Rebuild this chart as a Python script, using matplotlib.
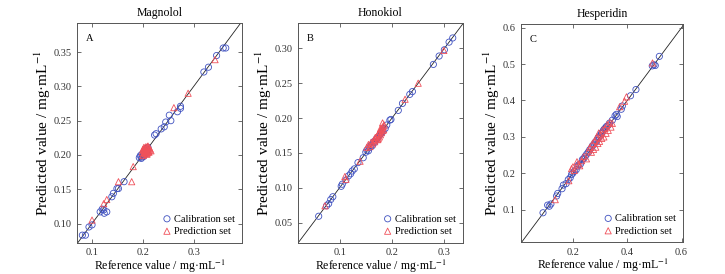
import matplotlib
matplotlib.use("Agg")
import matplotlib.pyplot as plt
from matplotlib.ticker import FormatStrFormatter

plt.rcParams["font.family"] = ["Liberation Serif", "DejaVu Serif"]
plt.rcParams["mathtext.fontset"] = "stix"

# ---------- data ----------
titles = ["Magnolol", "Honokiol", "Hesperidin"]
letters = ["A", "B", "C"]

a_cal_ref = [0.081, 0.087, 0.094, 0.100, 0.116, 0.120, 0.123, 0.124, 0.129, 0.139, 0.142, 0.149, 0.152, 0.163,
             0.193, 0.195, 0.197, 0.198, 0.199, 0.200, 0.201, 0.202, 0.203, 0.204, 0.205, 0.206, 0.207, 0.208, 0.210,
             0.223, 0.226, 0.236, 0.242, 0.245, 0.252, 0.255, 0.268, 0.274, 0.274, 0.320, 0.329, 0.345, 0.358, 0.363]
a_cal_pred = [0.083, 0.083, 0.095, 0.098, 0.117, 0.121, 0.120, 0.115, 0.117, 0.139, 0.144, 0.151, 0.151, 0.161,
              0.196, 0.199, 0.195, 0.201, 0.197, 0.200, 0.203, 0.198, 0.205, 0.201, 0.207, 0.203, 0.209, 0.206, 0.211,
              0.229, 0.231, 0.238, 0.241, 0.248, 0.258, 0.250, 0.263, 0.271, 0.268, 0.321, 0.328, 0.345, 0.356, 0.356]
a_pre_ref = [0.100, 0.123, 0.129, 0.152, 0.178, 0.181,
             0.199, 0.200, 0.201, 0.202, 0.203, 0.204, 0.205, 0.206, 0.207, 0.208, 0.209, 0.210, 0.211, 0.212, 0.213,
             0.200, 0.202, 0.204, 0.206, 0.208, 0.210, 0.212, 0.203, 0.205, 0.207, 0.209, 0.201, 0.211, 0.214, 0.216,
             0.261, 0.289, 0.342]
a_pre_pred = [0.105, 0.129, 0.135, 0.161, 0.161, 0.183,
              0.204, 0.208, 0.200, 0.211, 0.205, 0.209, 0.202, 0.212, 0.206, 0.210, 0.203, 0.208, 0.205, 0.211, 0.207,
              0.199, 0.206, 0.203, 0.209, 0.201, 0.213, 0.204, 0.210, 0.207, 0.203, 0.212, 0.208, 0.206, 0.209, 0.206,
              0.269, 0.290, 0.339]

b_cal_ref = [0.060, 0.075, 0.079, 0.083, 0.087, 0.103, 0.105, 0.112, 0.117, 0.121, 0.124, 0.128, 0.135, 0.145,
             0.150, 0.152, 0.155, 0.158, 0.160, 0.162, 0.165, 0.167, 0.170, 0.172, 0.175, 0.178, 0.180, 0.183,
             0.187, 0.190, 0.196, 0.198, 0.212, 0.220, 0.234, 0.239, 0.279, 0.290, 0.300, 0.309, 0.316]
b_cal_pred = [0.059, 0.074, 0.077, 0.083, 0.087, 0.102, 0.105, 0.111, 0.117, 0.120, 0.124, 0.127, 0.136, 0.143,
              0.151, 0.154, 0.153, 0.158, 0.161, 0.160, 0.166, 0.165, 0.170, 0.171, 0.174, 0.177, 0.179, 0.181,
              0.185, 0.190, 0.197, 0.198, 0.211, 0.221, 0.234, 0.238, 0.277, 0.289, 0.298, 0.309, 0.315]
b_pre_ref = [0.072, 0.110, 0.112, 0.139, 0.152, 0.155, 0.158, 0.160, 0.163, 0.165, 0.167, 0.169, 0.170, 0.172,
             0.174, 0.175, 0.176, 0.177, 0.178, 0.179, 0.180, 0.181, 0.182, 0.183, 0.184, 0.185, 0.168, 0.173,
             0.178, 0.182, 0.225, 0.250, 0.299]
b_pre_pred = [0.074, 0.116, 0.112, 0.138, 0.158, 0.162, 0.159, 0.165, 0.163, 0.168, 0.166, 0.172, 0.169, 0.175,
              0.171, 0.178, 0.173, 0.181, 0.176, 0.184, 0.179, 0.186, 0.182, 0.188, 0.183, 0.190, 0.172, 0.169,
              0.185, 0.193, 0.227, 0.250, 0.297]

c_cal_ref = [0.090, 0.107, 0.113, 0.119, 0.140, 0.144, 0.160, 0.165, 0.175, 0.183, 0.190, 0.195, 0.200, 0.205,
             0.212, 0.218, 0.222, 0.228, 0.235, 0.240, 0.245, 0.250, 0.256, 0.262, 0.268, 0.272, 0.278, 0.282,
             0.288, 0.292, 0.296, 0.300, 0.305, 0.308, 0.312, 0.316, 0.320, 0.324, 0.330, 0.335, 0.345, 0.355,
             0.360, 0.363, 0.378, 0.382, 0.412, 0.432, 0.492, 0.498, 0.503, 0.518]
c_cal_pred = [0.092, 0.113, 0.110, 0.116, 0.138, 0.145, 0.158, 0.168, 0.172, 0.183, 0.188, 0.197, 0.201, 0.206,
              0.210, 0.220, 0.224, 0.226, 0.238, 0.241, 0.247, 0.252, 0.258, 0.265, 0.270, 0.276, 0.280, 0.286,
              0.290, 0.297, 0.300, 0.303, 0.310, 0.312, 0.318, 0.322, 0.325, 0.329, 0.332, 0.338, 0.346, 0.358,
              0.362, 0.356, 0.376, 0.385, 0.413, 0.430, 0.495, 0.498, 0.496, 0.521]
c_pre_ref = [0.135, 0.185, 0.195, 0.200, 0.205, 0.215, 0.220, 0.225, 0.232, 0.240, 0.250, 0.258, 0.262, 0.268,
             0.272, 0.276, 0.280, 0.284, 0.288, 0.292, 0.295, 0.298, 0.302, 0.306, 0.310, 0.314, 0.318, 0.322,
             0.326, 0.330, 0.336, 0.340, 0.345, 0.372, 0.390, 0.397, 0.493]
c_pre_pred = [0.128, 0.180, 0.213, 0.218, 0.208, 0.232, 0.226, 0.221, 0.235, 0.246, 0.240, 0.262, 0.271, 0.258,
              0.282, 0.266, 0.290, 0.272, 0.300, 0.282, 0.311, 0.288, 0.306, 0.296, 0.320, 0.300, 0.323, 0.310,
              0.334, 0.318, 0.340, 0.327, 0.337, 0.383, 0.398, 0.410, 0.503]

x_limits = [(0.071, 0.395), (0.021, 0.335), (0.010, 0.606)]
y_limits = [(0.072, 0.392), (0.021, 0.336), (0.011, 0.609)]
x_ticks = [[0.1, 0.2, 0.3], [0.1, 0.2, 0.3], [0.2, 0.4, 0.6]]
y_ticks = [[0.10, 0.15, 0.20, 0.25, 0.30, 0.35],
           [0.05, 0.10, 0.15, 0.20, 0.25, 0.30],
           [0.1, 0.2, 0.3, 0.4, 0.5, 0.6]]
y_formats = ["%.2f", "%.2f", "%.1f"]

panels = [
    (a_cal_ref, a_cal_pred, a_pre_ref, a_pre_pred),
    (b_cal_ref, b_cal_pred, b_pre_ref, b_pre_pred),
    (c_cal_ref, c_cal_pred, c_pre_ref, c_pre_pred),
]

# ---------- layout ----------
axes_pos = [
    [0.1066, 0.1142, 0.2272, 0.8007],
    [0.4114, 0.1142, 0.2268, 0.8007],
    [0.7190, 0.1157, 0.2234, 0.7956],
]

blue = "#3f51c0"
red = "#f0505a"
frame = "#555555"

fig = plt.figure(figsize=(7.25, 2.74), dpi=100)

for i, (cal_x, cal_y, pre_x, pre_y) in enumerate(panels):
    ax = fig.add_axes(axes_pos[i])
    lo = min(x_limits[i][0], y_limits[i][0])
    hi = max(x_limits[i][1], y_limits[i][1])
    ax.plot([lo, hi], [lo, hi], color="#222222", lw=0.6, zorder=1)
    ax.scatter(cal_x, cal_y, s=20, marker="o", facecolors="none",
               edgecolors=blue, linewidths=0.6, label="Calibration set", zorder=2)
    ax.scatter(pre_x, pre_y, s=20, marker="^", facecolors="none",
               edgecolors=red, linewidths=0.6, label="Prediction set", zorder=3)

    ax.set_xlim(*x_limits[i])
    ax.set_ylim(*y_limits[i])
    ax.set_xticks(x_ticks[i])
    ax.set_yticks(y_ticks[i])
    ax.xaxis.set_major_formatter(FormatStrFormatter("%g"))
    ax.yaxis.set_major_formatter(FormatStrFormatter(y_formats[i]))
    ax.tick_params(direction="in", top=True, right=True, length=3, width=0.6,
                   color=frame, labelsize=7.5, labelcolor="#333333", pad=4)
    for sp in ax.spines.values():
        sp.set_linewidth(0.7)
        sp.set_color(frame)

    ax.set_title(titles[i], fontsize=8.5, pad=5)
    ax.set_xlabel(r"Reference value / mg·mL$^{-1}$", fontsize=8.5, labelpad=0)
    ax.set_ylabel(r"Predicted value / mg·mL$^{-1}$", fontsize=11, labelpad=0.5)
    ax.text(0.05, 0.93, letters[i], transform=ax.transAxes, fontsize=7.5,
            ha="left", va="center")
    ax.legend(loc="lower right", frameon=False, fontsize=7.5, handletextpad=0.1,
              borderaxespad=0.45, labelspacing=0.3, handlelength=1.2,
              borderpad=0.2)

fig.savefig("out.png", dpi=100)
